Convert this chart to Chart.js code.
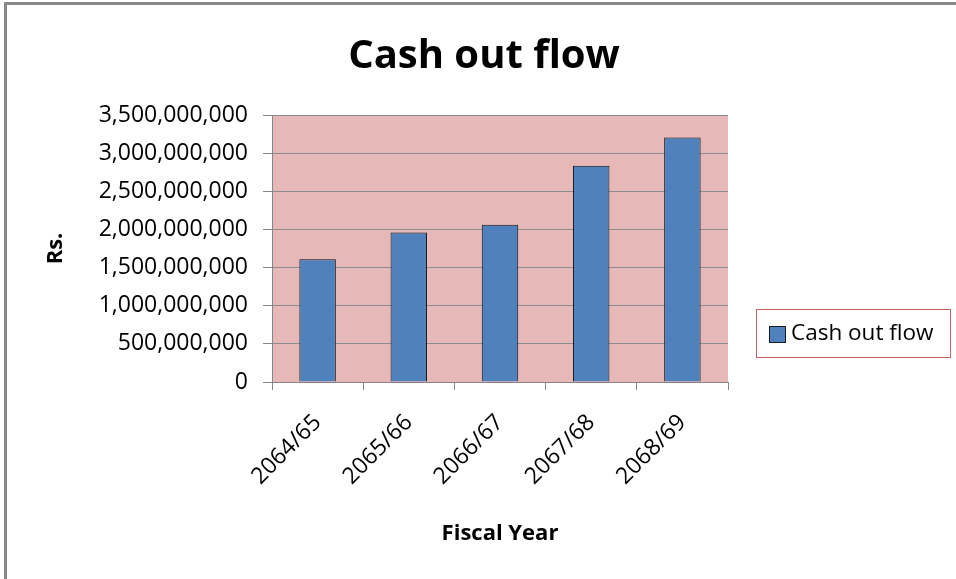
<!DOCTYPE html>
<html><head><meta charset="utf-8">
<script src="https://cdn.jsdelivr.net/npm/chart.js@4"></script>
<style>
html,body{margin:0;padding:0;background:#fff;}
#wrap{position:relative;width:956px;height:579px;overflow:hidden;}
#frame{position:absolute;left:4px;top:2px;right:-10px;bottom:-10px;border-left:3px solid #8a8a8a;border-top:3px solid #8a8a8a;pointer-events:none;}
canvas{position:absolute;left:0;top:0;}
</style></head><body>
<div id="wrap"><canvas id="c" width="956" height="579"></canvas><div id="frame"></div></div>
<script>
const categories = ['2064/65', '2065/66', '2066/67', '2067/68', '2068/69'];
const cashOutFlow = [1610000000, 1960000000, 2060000000, 2835000000, 3205000000];
const seriesName = 'Cash out flow';
const chartTitle = 'Cash out flow';
const xTitle = 'Fiscal Year';
const yTitle = 'Rs.';
const yMin = 0, yMax = 3500000000, yStep = 500000000;

const FONT = '"Open Sans", "Noto Sans", sans-serif';

const plotBg = {
  id: 'plotBg',
  beforeDraw(chart) {
    const a = chart.chartArea, ctx = chart.ctx;
    ctx.save();
    ctx.fillStyle = '#e6b9b8';
    ctx.fillRect(a.left, a.top, a.right - a.left, a.bottom - a.top);
    ctx.restore();
  }
};

const titleShift = {
  id: 'titleShift',
  afterLayout(chart) {
    const t = chart.titleBlock;
    if (!t) return;
    const shift = 484 - (t.left + t.right) / 2;
    t.left += shift; t.right += shift;
  }
};

const boxLegend = {
  id: 'boxLegend',
  afterDraw(chart) {
    const ctx = chart.ctx, ds = chart.data.datasets[0];
    ctx.save();
    ctx.strokeStyle = '#c06562';
    ctx.lineWidth = 1;
    ctx.strokeRect(756.5, 309.5, 194, 48);
    ctx.fillStyle = ds.backgroundColor;
    ctx.fillRect(769.5, 326.5, 16, 16);
    ctx.strokeStyle = '#1a1a1a';
    ctx.strokeRect(769.5, 326.5, 16, 16);
    ctx.font = '22.5px ' + FONT;
    ctx.fillStyle = '#000';
    ctx.textBaseline = 'middle';
    ctx.textAlign = 'left';
    ctx.fillText(ds.label, 791, 334);
    ctx.restore();
  }
};

function draw() {
  new Chart(document.getElementById('c'), {
    type: 'bar',
    data: {
      labels: categories,
      datasets: [{
        label: seriesName,
        data: cashOutFlow,
        backgroundColor: '#4f81bd',
        borderColor: '#111111',
        borderWidth: 1,
        borderSkipped: 'bottom',
        categoryPercentage: 1.0,
        barPercentage: 0.4
      }]
    },
    options: {
      responsive: false,
      devicePixelRatio: 1,
      animation: false,
      layout: { padding: { left: 39, right: 228, top: 0, bottom: 28 } },
      plugins: {
        legend: { display: false },
        tooltip: { enabled: false },
        title: {
          display: true,
          text: chartTitle,
          color: '#000',
          font: { family: FONT, size: 40, weight: 'bold' },
          padding: { top: 33, bottom: 34 }
        }
      },
      scales: {
        x: {
          grid: { display: true, drawOnChartArea: false, drawTicks: true, tickLength: 8, color: '#868686', tickColor: '#868686', offset: true },
          border: { display: true, color: '#868686' },
          ticks: { color: '#000', font: { family: FONT, size: 23 }, minRotation: 45, maxRotation: 45, padding: 19, labelOffset: 0 },
          title: { display: true, text: xTitle, color: '#000', font: { family: FONT, size: 22, weight: 'bold' } },
          afterFit(s) { s.height = 169; }
        },
        y: {
          min: yMin, max: yMax,
          grid: { color: '#8c8c8c', tickColor: '#868686', tickLength: 9, lineWidth: 1 },
          border: { display: true, color: '#868686' },
          ticks: { stepSize: yStep, color: '#000', padding: 15, font: { family: FONT, size: 23 },
                   callback: v => Number(v).toLocaleString('en-US') },
          title: { display: true, text: yTitle, color: '#000', font: { family: FONT, size: 22, weight: 'bold' } },
          afterFit(s) { s.width = 233; }
        }
      }
    },
    plugins: [plotBg, titleShift, boxLegend]
  });
}
if (document.fonts && document.fonts.load) {
  Promise.all([document.fonts.load('22px "Open Sans"'), document.fonts.load('bold 22px "Open Sans"')]).then(draw, draw);
} else { draw(); }
</script>
</body></html>
